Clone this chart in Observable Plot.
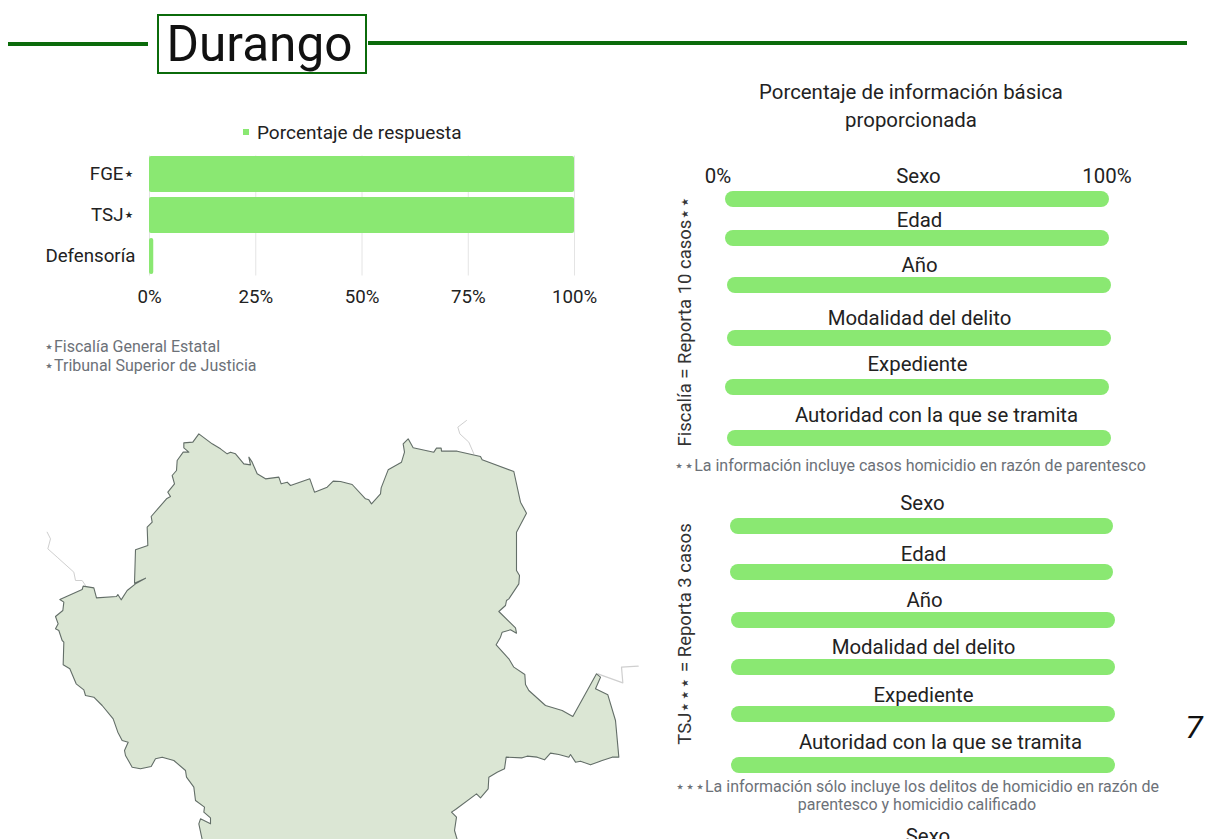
<!DOCTYPE html>
<html lang="es">
<head>
<meta charset="utf-8">
<script src="https://cdn.jsdelivr.net/npm/d3@7"></script>
<script src="https://cdn.jsdelivr.net/npm/@observablehq/plot@0.6"></script>
<style>
html,body{margin:0;padding:0;background:#fff;overflow:hidden}
#page{position:relative;width:1207px;height:839px;overflow:hidden;font-family:Roboto,sans-serif;color:#222}
#page>*{position:absolute}
.t{white-space:nowrap;line-height:1}
.c{transform:translate(-50%,-50%)}
.m{transform:translateY(-50%)}
.note{color:#6c7178;font-size:16px}
.v{font-size:18.5px;transform:translate(-50%,-50%) rotate(-90deg);color:#333}
.hr{background:#0b6b0b;height:4px}
svg{background:transparent!important;overflow:visible}
</style>
</head>
<body>
<div id="page"></div>
<script>
// Data ---------------------------------------------------------------
const responseInstitutions = ["FGE⋆", "TSJ⋆", "Defensoría"];
const responseRates = [100, 100, 1];
const responseTicks = [0, 25, 50, 75, 100];
const fieldLabels = ["Sexo", "Edad", "Año", "Modalidad del delito", "Expediente", "Autoridad con la que se tramita"];
const fiscaliaValues = [100, 100, 100, 100, 100, 100];
const tsjValues = [100, 100, 100, 100, 100, 100];
const scaleEnds = [0, 100];
// Outline of the state, in map units (a third of a pixel)
const stateX = [515,505,510,540,540,520,522,495,490,468,465,430,395,375,362,330,305,285,282,293,275,262,248,215,190,165,160,137,118,98,100,95,85,75,83,75,97,100,88,155,158,190,198,258,262,272,290,315,345,312,315,352,350,365,362,408,420,412,432,425,438,440,458,475,460,460,487,505,545,570,590,600,615,640,660,655,665,680,705,745,752,770,780,838,852,890,908,930,965,1005,1015,1023,1050,1052,1073,1113,1122,1118,1133,1148,1210,1218,1232,1233,1280,1350,1355,1450,1470,1488,1458,1458,1467,1465,1435,1428,1425,1405,1455,1458,1440,1415,1410,1397,1435,1450,1483,1485,1495,1545,1595,1627,1698,1710,1695,1732,1755,1765,1745,1715,1680,1650,1635,1620,1615,1585,1560,1542,1520,1490,1475,1427,1422,1400,1375,1373,1350,1338,1275,1263,1278,1272,1280];
const stateY = [1287,1240,1225,1240,1222,1205,1190,1170,1130,1100,1080,1050,1040,1045,1068,1075,1070,1035,1020,995,990,965,925,885,860,855,838,820,775,763,695,690,660,655,640,618,600,575,567,537,527,532,562,558,552,568,540,520,503,518,418,405,350,335,318,265,258,245,220,195,180,150,125,125,112,97,95,70,100,115,130,125,130,160,163,140,155,190,205,200,220,215,225,205,245,230,212,213,222,265,268,280,250,232,178,155,125,100,85,112,125,113,113,122,122,138,148,183,275,308,365,480,495,520,565,570,585,603,652,668,658,665,680,703,745,770,792,822,840,885,900,918,790,800,835,853,930,1040,1040,1050,1063,1052,1055,1032,1040,1032,1028,1048,1040,1037,1042,1040,1075,1085,1100,1135,1162,1150,1197,1205,1220,1260,1287];
const borderWestX = [50,60,52,80,130,135,155,165];
const borderWestY = [365,385,415,440,485,510,510,525];
const borderNorthX = [1308,1282,1288,1315,1330];
const borderNorthY = [30,50,70,95,130];
const borderEastX = [1702,1777,1773,1823];
const borderEastY = [790,817,770,767];

// Layout -------------------------------------------------------------
const GREEN = "#8ae872", FONT = "Roboto, sans-serif";
const page = document.getElementById("page");
function html(cls, text, css) {
  const el = document.createElement("div");
  el.className = cls; el.textContent = text; el.style.cssText = css;
  page.appendChild(el); return el;
}
function place(svg, left, top) {
  svg.style.left = left + "px"; svg.style.top = top + "px"; svg.style.position = "absolute";
  page.appendChild(svg);
}

// Header
html("hr", "", "left:8px;top:42px;width:140px");
html("hr", "", "left:368px;top:41px;width:819px");
html("t", "Durango", "left:157px;top:14px;height:56px;padding-right:5px;box-sizing:content-box;width:201px;border:2px solid #0b6b0b;font-size:49.5px;line-height:56px;text-align:center;color:#111");

// Response bars
html("", "", `left:243px;top:129px;width:6px;height:6px;background:${GREEN}`);
html("t m", "Porcentaje de respuesta", "left:257px;top:132px;font-size:19px");
place(Plot.plot({
  width: 640, height: 316, marginTop: 155.5, marginLeft: 149, marginRight: 66, marginBottom: 40.5,
  style: {fontFamily: FONT, color: "#222"},
  x: {domain: [0, 100], axis: null},
  y: {domain: responseInstitutions, axis: null, paddingInner: 0.12, paddingOuter: 0},
  marks: [
    Plot.ruleX(responseTicks, {x: d => d, stroke: "#e4e4e4"}),
    Plot.barX(responseInstitutions, {x: (d, i) => responseRates[i], y: d => d, fill: GREEN, rx: 2}),
    Plot.text(responseInstitutions, {x: () => 0, y: d => d, text: d => d, textAnchor: "end", dx: -14, fontSize: 18.7, fill: "#222"}),
    Plot.text(responseTicks, {x: d => d, frameAnchor: "bottom", dy: 21, text: d => d + "%", fontSize: 18.7, fill: "#222", lineAnchor: "middle"})
  ]
}), 0, 0);
html("t note", "⋆Fiscalía General Estatal", "left:44px;top:339px");
html("t note", "⋆Tribunal Superior de Justicia", "left:44px;top:358px");

// Map
place(Plot.plot({
  width: 640, height: 429, margin: 0,
  x: {domain: [0, 1920], axis: null},
  y: {domain: [0, 1287], axis: null, reverse: true},
  marks: [
    Plot.line(borderWestX, {x: d => d, y: (d, i) => borderWestY[i], stroke: "#cfcfcf", strokeWidth: 1}),
    Plot.line(borderNorthX, {x: d => d, y: (d, i) => borderNorthY[i], stroke: "#cfcfcf", strokeWidth: 1}),
    Plot.line(borderEastX, {x: d => d, y: (d, i) => borderEastY[i], stroke: "#cfcfcf", strokeWidth: 1.2}),
    Plot.line(stateX, {x: d => d, y: (d, i) => stateY[i], fill: "#dbe6d4", stroke: "#636e68", strokeWidth: 1.1})
  ]
}), 30, 410);

// Right column
html("t c", "Porcentaje de información básica", "left:911px;top:92px;font-size:20.4px");
html("t c", "proporcionada", "left:911px;top:120px;font-size:20.4px");

function row(label, value, r) {
  const left = 660, labelHalf = 12, width = 500;
  const gap = r.barTop - r.labelY;
  const pct = (r.labelX - r.x0) / (r.x1 - r.x0) * 100;
  place(Plot.plot({
    width, height: labelHalf + gap + 16,
    marginTop: labelHalf + gap, marginBottom: 0, marginLeft: r.x0 - left, marginRight: left + width - r.x1,
    style: {fontFamily: FONT},
    x: {domain: [0, 100], axis: null},
    marks: [
      Plot.barX([value], {x: d => d, fill: GREEN, rx: 8, ry: 8}),
      Plot.text([label], {x: () => pct, frameAnchor: "top", dy: -gap, text: d => d, fontSize: 20.4, fill: "#222", lineAnchor: "middle"})
    ]
  }), left, r.labelY - labelHalf);
}
const fiscaliaLayout = [
  {labelX: 918, labelY: 176, barTop: 191, x0: 725, x1: 1109},
  {labelX: 919, labelY: 220, barTop: 230, x0: 725, x1: 1109},
  {labelX: 919, labelY: 265, barTop: 277, x0: 727, x1: 1111},
  {labelX: 919, labelY: 318, barTop: 330, x0: 727, x1: 1111},
  {labelX: 917, labelY: 364, barTop: 379, x0: 725, x1: 1109},
  {labelX: 936, labelY: 415, barTop: 430, x0: 727, x1: 1111}
];
const tsjLayout = [
  {labelX: 922, labelY: 503, barTop: 518, x0: 730, x1: 1113},
  {labelX: 923, labelY: 554, barTop: 564, x0: 730, x1: 1113},
  {labelX: 924, labelY: 600, barTop: 612, x0: 731, x1: 1115},
  {labelX: 923, labelY: 647, barTop: 659, x0: 731, x1: 1115},
  {labelX: 923, labelY: 695, barTop: 706, x0: 731, x1: 1115},
  {labelX: 940, labelY: 742, barTop: 757, x0: 731, x1: 1115}
];
fieldLabels.forEach((l, i) => row(l, fiscaliaValues[i], fiscaliaLayout[i]));
fieldLabels.forEach((l, i) => row(l, tsjValues[i], tsjLayout[i]));

html("t c", scaleEnds[0] + "%", "left:718px;top:176px;font-size:20.4px");
html("t c", scaleEnds[1] + "%", "left:1107px;top:176px;font-size:20.4px");

html("t v", "Fiscalía = Reporta 10 casos⋆⋆", "left:685px;top:321px");
html("t v", "TSJ⋆⋆⋆ = Reporta 3 casos", "left:685px;top:634px");
html("t note c", "⋆⋆La información incluye casos homicidio en razón de parentesco", "left:910px;top:466px");
html("t note c", "⋆⋆⋆La información sólo incluye los delitos de homicidio en razón de", "left:917px;top:787px");
html("t note c", "parentesco y homicidio calificado", "left:917px;top:805px");
html("t c", "Sexo", "left:928px;top:836px;font-size:20.4px");
html("t c", "7", "left:1194px;top:727px;font-size:32px;font-style:italic;color:#111");
</script>
</body>
</html>
